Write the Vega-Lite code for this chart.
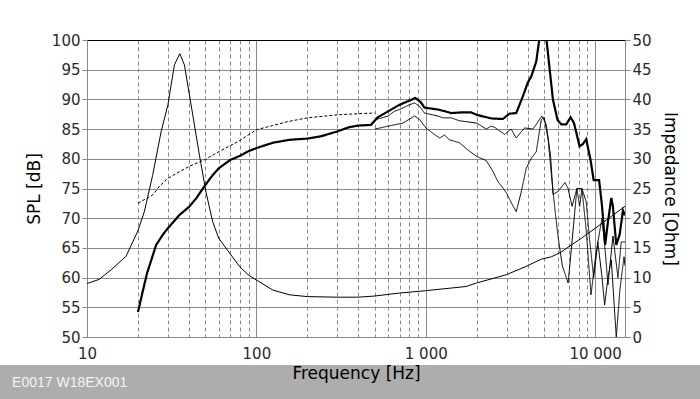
{
  "$schema": "https://vega.github.io/schema/vega-lite/v6.json",
  "width": 538,
  "height": 297,
  "autosize": {"type": "none"},
  "padding": {"left": 87, "top": 40, "right": 75, "bottom": 62},
  "background": "white",
  "config": {
    "font": "DejaVu Sans",
    "view": {"stroke": "#000", "strokeWidth": 1},
    "axis": {
      "labelFont": "DejaVu Sans", "labelFontSize": 15, "labelColor": "#2a2a2a",
      "titleFont": "DejaVu Sans", "titleFontSize": 17, "titleFontWeight": "normal", "titleColor": "#000000",
      "domainColor": "#888888", "tickColor": "#888888", "gridColor": "#888888", "gridOpacity": 1, "gridWidth": 1
    }
  },
  "datasets": {
    "spl": [
      {"f": 20, "v": 54.2, "s": "0deg"}, {"f": 21.3, "v": 57.6, "s": "0deg"}, {"f": 22.6, "v": 60.7, "s": "0deg"},
      {"f": 25.6, "v": 65.5, "s": "0deg"}, {"f": 28, "v": 67.2, "s": "0deg"}, {"f": 30, "v": 68.3, "s": "0deg"},
      {"f": 35, "v": 70.5, "s": "0deg"}, {"f": 40, "v": 71.9, "s": "0deg"}, {"f": 44, "v": 73.3, "s": "0deg"},
      {"f": 50, "v": 75.6, "s": "0deg"}, {"f": 55, "v": 77.2, "s": "0deg"}, {"f": 60, "v": 78.4, "s": "0deg"},
      {"f": 70, "v": 79.8, "s": "0deg"}, {"f": 80, "v": 80.5, "s": "0deg"}, {"f": 90, "v": 81.3, "s": "0deg"},
      {"f": 100, "v": 81.8, "s": "0deg"}, {"f": 125, "v": 82.7, "s": "0deg"}, {"f": 157, "v": 83.2, "s": "0deg"},
      {"f": 200, "v": 83.4, "s": "0deg"}, {"f": 241, "v": 83.8, "s": "0deg"}, {"f": 300, "v": 84.6, "s": "0deg"},
      {"f": 350, "v": 85.3, "s": "0deg"}, {"f": 400, "v": 85.6, "s": "0deg"}, {"f": 475, "v": 85.7, "s": "0deg"},
      {"f": 521, "v": 87.0, "s": "0deg"}, {"f": 600, "v": 88.0, "s": "0deg"}, {"f": 653, "v": 88.6, "s": "0deg"},
      {"f": 700, "v": 89.1, "s": "0deg"}, {"f": 802, "v": 89.8, "s": "0deg"}, {"f": 869, "v": 90.25, "s": "0deg"},
      {"f": 935, "v": 89.5, "s": "0deg"}, {"f": 984, "v": 88.6, "s": "0deg"}, {"f": 1050, "v": 88.5, "s": "0deg"},
      {"f": 1178, "v": 88.3, "s": "0deg"}, {"f": 1300, "v": 88.0, "s": "0deg"}, {"f": 1413, "v": 87.7, "s": "0deg"},
      {"f": 1600, "v": 87.8, "s": "0deg"}, {"f": 1853, "v": 87.8, "s": "0deg"}, {"f": 2000, "v": 87.4, "s": "0deg"},
      {"f": 2430, "v": 86.8, "s": "0deg"}, {"f": 2850, "v": 86.7, "s": "0deg"}, {"f": 3120, "v": 87.6, "s": "0deg"},
      {"f": 3420, "v": 87.7, "s": "0deg"}, {"f": 3740, "v": 90.5, "s": "0deg"}, {"f": 4000, "v": 92.8, "s": "0deg"},
      {"f": 4200, "v": 93.9, "s": "0deg"}, {"f": 4490, "v": 96.4, "s": "0deg"}, {"f": 4700, "v": 100.5, "s": "0deg"},
      {"f": 4900, "v": 102, "s": "0deg"}, {"f": 5140, "v": 100.5, "s": "0deg"}, {"f": 5630, "v": 90.0, "s": "0deg"},
      {"f": 6000, "v": 86.5, "s": "0deg"}, {"f": 6310, "v": 85.8, "s": "0deg"}, {"f": 6750, "v": 85.8, "s": "0deg"},
      {"f": 7160, "v": 87.0, "s": "0deg"}, {"f": 7500, "v": 86.0, "s": "0deg"}, {"f": 8090, "v": 82.1, "s": "0deg"},
      {"f": 8470, "v": 82.5, "s": "0deg"}, {"f": 8850, "v": 83.3, "s": "0deg"}, {"f": 9390, "v": 79.8, "s": "0deg"},
      {"f": 9800, "v": 76.4, "s": "0deg"}, {"f": 10550, "v": 76.4, "s": "0deg"}, {"f": 10980, "v": 72.0, "s": "0deg"},
      {"f": 11450, "v": 65.5, "s": "0deg"}, {"f": 11900, "v": 69.4, "s": "0deg"}, {"f": 12450, "v": 73.4, "s": "0deg"},
      {"f": 12730, "v": 72.0, "s": "0deg"}, {"f": 13320, "v": 65.5, "s": "0deg"}, {"f": 13940, "v": 67.2, "s": "0deg"},
      {"f": 14590, "v": 71.3, "s": "0deg"}, {"f": 15000, "v": 70.5, "s": "0deg"},

      {"f": 505, "v": 86.6, "s": "30deg"}, {"f": 600, "v": 87.2, "s": "30deg"}, {"f": 653, "v": 88.0, "s": "30deg"},
      {"f": 700, "v": 88.3, "s": "30deg"}, {"f": 800, "v": 89.1, "s": "30deg"}, {"f": 860, "v": 89.4, "s": "30deg"},
      {"f": 920, "v": 88.8, "s": "30deg"}, {"f": 982, "v": 87.7, "s": "30deg"}, {"f": 1100, "v": 87.4, "s": "30deg"},
      {"f": 1178, "v": 87.2, "s": "30deg"}, {"f": 1260, "v": 86.9, "s": "30deg"}, {"f": 1413, "v": 86.9, "s": "30deg"},
      {"f": 1580, "v": 86.4, "s": "30deg"}, {"f": 1690, "v": 86.3, "s": "30deg"}, {"f": 2000, "v": 86.0, "s": "30deg"},
      {"f": 2275, "v": 85.0, "s": "30deg"}, {"f": 2430, "v": 85.5, "s": "30deg"}, {"f": 2550, "v": 85.3, "s": "30deg"},
      {"f": 2700, "v": 84.8, "s": "30deg"}, {"f": 2920, "v": 84.1, "s": "30deg"}, {"f": 3190, "v": 85.0, "s": "30deg"},
      {"f": 3420, "v": 83.5, "s": "30deg"}, {"f": 3650, "v": 84.5, "s": "30deg"}, {"f": 3830, "v": 85.2, "s": "30deg"},
      {"f": 4290, "v": 85.0, "s": "30deg"}, {"f": 4590, "v": 86.2, "s": "30deg"}, {"f": 4850, "v": 87.2, "s": "30deg"},
      {"f": 5140, "v": 85.8, "s": "30deg"}, {"f": 5460, "v": 80.4, "s": "30deg"}, {"f": 5640, "v": 74.0, "s": "30deg"},
      {"f": 6030, "v": 74.5, "s": "30deg"}, {"f": 6630, "v": 76.0, "s": "30deg"}, {"f": 6920, "v": 75.0, "s": "30deg"},
      {"f": 7300, "v": 72.0, "s": "30deg"}, {"f": 7800, "v": 75.0, "s": "30deg"}, {"f": 8350, "v": 75.0, "s": "30deg"},
      {"f": 8850, "v": 72.8, "s": "30deg"}, {"f": 9300, "v": 66.0, "s": "30deg"}, {"f": 9800, "v": 60.0, "s": "30deg"},
      {"f": 10370, "v": 66.0, "s": "30deg"}, {"f": 10980, "v": 70.0, "s": "30deg"}, {"f": 11500, "v": 64.0, "s": "30deg"},
      {"f": 11900, "v": 58.8, "s": "30deg"}, {"f": 12730, "v": 67.0, "s": "30deg"}, {"f": 13630, "v": 60.0, "s": "30deg"},
      {"f": 14250, "v": 66.0, "s": "30deg"}, {"f": 15000, "v": 66.0, "s": "30deg"},

      {"f": 500, "v": 85.0, "s": "60deg"}, {"f": 600, "v": 85.5, "s": "60deg"}, {"f": 730, "v": 86.0, "s": "60deg"},
      {"f": 860, "v": 87.2, "s": "60deg"}, {"f": 920, "v": 86.6, "s": "60deg"}, {"f": 1000, "v": 85.2, "s": "60deg"},
      {"f": 1100, "v": 84.3, "s": "60deg"}, {"f": 1206, "v": 83.5, "s": "60deg"}, {"f": 1290, "v": 84.0, "s": "60deg"},
      {"f": 1380, "v": 83.2, "s": "60deg"}, {"f": 1580, "v": 82.7, "s": "60deg"}, {"f": 1770, "v": 81.5, "s": "60deg"},
      {"f": 2000, "v": 80.4, "s": "60deg"}, {"f": 2275, "v": 79.7, "s": "60deg"}, {"f": 2490, "v": 77.9, "s": "60deg"},
      {"f": 2660, "v": 76.2, "s": "60deg"}, {"f": 2850, "v": 75.1, "s": "60deg"}, {"f": 3000, "v": 74.2, "s": "60deg"},
      {"f": 3240, "v": 72.3, "s": "60deg"}, {"f": 3420, "v": 71.1, "s": "60deg"}, {"f": 3660, "v": 74.4, "s": "60deg"},
      {"f": 3920, "v": 78.4, "s": "60deg"}, {"f": 4200, "v": 80.1, "s": "60deg"}, {"f": 4490, "v": 81.2, "s": "60deg"},
      {"f": 4810, "v": 86.6, "s": "60deg"}, {"f": 5000, "v": 87.0, "s": "60deg"}, {"f": 5280, "v": 83.2, "s": "60deg"},
      {"f": 5510, "v": 77.3, "s": "60deg"}, {"f": 5760, "v": 72.0, "s": "60deg"}, {"f": 6030, "v": 67.0, "s": "60deg"},
      {"f": 6400, "v": 62.0, "s": "60deg"}, {"f": 6920, "v": 59.1, "s": "60deg"}, {"f": 7300, "v": 66.0, "s": "60deg"},
      {"f": 7800, "v": 75.0, "s": "60deg"}, {"f": 8100, "v": 72.0, "s": "60deg"}, {"f": 8350, "v": 75.0, "s": "60deg"},
      {"f": 8850, "v": 68.0, "s": "60deg"}, {"f": 9450, "v": 57.1, "s": "60deg"}, {"f": 10000, "v": 63.0, "s": "60deg"},
      {"f": 10370, "v": 66.0, "s": "60deg"}, {"f": 10980, "v": 60.0, "s": "60deg"}, {"f": 11370, "v": 55.4, "s": "60deg"},
      {"f": 11900, "v": 60.0, "s": "60deg"}, {"f": 12450, "v": 63.0, "s": "60deg"}, {"f": 13320, "v": 50.0, "s": "60deg"},
      {"f": 14000, "v": 58.0, "s": "60deg"}, {"f": 14800, "v": 63.5, "s": "60deg"}, {"f": 15000, "v": 62.0, "s": "60deg"},

      {"f": 20, "v": 72.5, "s": "sim"}, {"f": 22, "v": 73.2, "s": "sim"}, {"f": 24.4, "v": 73.9, "s": "sim"},
      {"f": 27, "v": 75.5, "s": "sim"}, {"f": 30, "v": 76.7, "s": "sim"}, {"f": 35, "v": 77.8, "s": "sim"},
      {"f": 40, "v": 78.7, "s": "sim"}, {"f": 50, "v": 79.9, "s": "sim"}, {"f": 60, "v": 81.2, "s": "sim"},
      {"f": 70, "v": 82.2, "s": "sim"}, {"f": 80, "v": 83.1, "s": "sim"}, {"f": 100, "v": 84.9, "s": "sim"},
      {"f": 125, "v": 85.6, "s": "sim"}, {"f": 150, "v": 86.2, "s": "sim"}, {"f": 200, "v": 86.9, "s": "sim"},
      {"f": 300, "v": 87.4, "s": "sim"}, {"f": 400, "v": 87.6, "s": "sim"}, {"f": 500, "v": 87.7, "s": "sim"}
    ],
    "imp": [
      {"f": 10, "z": 9.0}, {"f": 11.8, "z": 9.7}, {"f": 14, "z": 11.4}, {"f": 17, "z": 13.6}, {"f": 20, "z": 17.9},
      {"f": 21.8, "z": 21.1}, {"f": 24.4, "z": 27.2}, {"f": 27.4, "z": 34.6}, {"f": 30, "z": 39.0}, {"f": 32.8, "z": 45.8},
      {"f": 35.3, "z": 47.7}, {"f": 37.6, "z": 45.8}, {"f": 42.1, "z": 37.4}, {"f": 46.1, "z": 30.6}, {"f": 50.4, "z": 24.4},
      {"f": 55.2, "z": 19.4}, {"f": 60, "z": 16.6}, {"f": 70, "z": 14.0}, {"f": 80, "z": 11.8}, {"f": 90, "z": 10.4},
      {"f": 100, "z": 9.6}, {"f": 125, "z": 7.9}, {"f": 157, "z": 7.1}, {"f": 200, "z": 6.8}, {"f": 300, "z": 6.7},
      {"f": 400, "z": 6.7}, {"f": 500, "z": 6.9}, {"f": 700, "z": 7.4}, {"f": 1000, "z": 7.8}, {"f": 1730, "z": 8.5},
      {"f": 2000, "z": 9.1}, {"f": 3000, "z": 10.5}, {"f": 3920, "z": 11.9}, {"f": 4490, "z": 12.7}, {"f": 4810, "z": 13.1},
      {"f": 5510, "z": 13.5}, {"f": 6310, "z": 14.3}, {"f": 7230, "z": 15.5}, {"f": 8280, "z": 16.6}, {"f": 10000, "z": 18.3},
      {"f": 12450, "z": 20.3}, {"f": 15000, "z": 22.0}
    ],
    "caption": [{"label": "E0017 W18EX001"}]
  },
  "layer": [
    {
      "data": {"name": "spl"},
      "mark": {"type": "line", "color": "#000000", "clip": true},
      "encoding": {
        "x": {
          "field": "f", "type": "quantitative",
          "scale": {"type": "log", "domain": [10, 15000], "nice": false},
          "axis": {
            "title": null,
            "values": [10, 20, 30, 40, 50, 60, 70, 80, 90, 100, 200, 300, 400, 500, 600, 700, 800, 900, 1000, 2000, 3000, 4000, 5000, 6000, 7000, 8000, 9000, 10000],
            "labelExpr": "datum.value == 10 ? '10' : datum.value == 100 ? '100' : datum.value == 1000 ? '1 000' : datum.value == 10000 ? '10 000' : ''",
            "ticks": false, "grid": true, "domain": true,
            "gridDash": {"condition": {"test": "datum.value == 10 || datum.value == 100 || datum.value == 1000 || datum.value == 10000", "value": []}, "value": [4, 3]},
            "labelPadding": 9, "labelOverlap": false, "labelFlush": false, "labelBound": false, "labelAngle": 0
          }
        },
        "y": {
          "field": "v", "type": "quantitative",
          "scale": {"domain": [50, 100], "nice": false, "zero": false},
          "axis": {
            "title": "SPL [dB]",
            "values": [50, 55, 60, 65, 70, 75, 80, 85, 90, 95, 100],
            "grid": true,
            "gridColor": {"condition": {"test": "datum.value == 100", "value": "#000000"}, "value": "#888888"},
            "tickSize": 5, "labelPadding": 2, "titlePadding": 8, "minExtent": 36, "maxExtent": 36, "labelFlush": false
          }
        },
        "strokeWidth": {"field": "s", "type": "nominal", "scale": {"type": "ordinal", "domain": ["0deg", "30deg", "60deg", "sim"], "range": [2.2, 1, 1, 1]}, "legend": null},
        "strokeDash": {"field": "s", "type": "nominal", "scale": {"domain": ["0deg", "30deg", "60deg", "sim"], "range": [[1, 0], [1, 0], [1, 0], [3, 2]]}, "legend": null}
      }
    },
    {
      "data": {"name": "imp"},
      "mark": {"type": "line", "color": "#000000", "strokeWidth": 1, "clip": true},
      "encoding": {
        "x": {"field": "f", "type": "quantitative", "scale": {"type": "log", "domain": [10, 15000], "nice": false}, "axis": null},
        "y": {
          "field": "z", "type": "quantitative",
          "scale": {"domain": [0, 50], "nice": false},
          "axis": {
            "orient": "right", "title": "Impedance [Ohm]",
            "values": [0, 5, 10, 15, 20, 25, 30, 35, 40, 45, 50],
            "grid": false, "tickSize": 5, "labelPadding": 2, "titlePadding": 9, "minExtent": 26, "maxExtent": 26, "labelFlush": false
          }
        }
      }
    },
    {
      "data": {"name": "caption"},
      "layer": [
        {
          "mark": {"type": "rect", "color": "#adadad"},
          "encoding": {
            "x": {"datum": 2, "type": "quantitative", "scale": {"type": "log", "domain": [10, 15000], "nice": false},
              "axis": {"orient": "bottom", "title": "Frequency [Hz]", "labels": false, "ticks": false, "domain": false, "grid": false, "zindex": 1, "titlePadding": 28, "minExtent": 0, "maxExtent": 0}},
            "x2": {"datum": 60000},
            "y": {"datum": 45.29, "type": "quantitative", "scale": {"domain": [50, 100], "nice": false, "zero": false}, "axis": null},
            "y2": {"datum": 38}
          }
        },
        {
          "mark": {"type": "text", "align": "left", "baseline": "middle", "font": "Liberation Sans", "fontSize": 14, "color": "#f4f4f4"},
          "encoding": {
            "x": {"datum": 3.61, "type": "quantitative", "scale": {"type": "log", "domain": [10, 15000], "nice": false},
              "axis": {"orient": "bottom", "title": "Frequency [Hz]", "labels": false, "ticks": false, "domain": false, "grid": false, "zindex": 1, "titlePadding": 28, "minExtent": 0, "maxExtent": 0}},
            "y": {"datum": 42.26, "type": "quantitative", "scale": {"domain": [50, 100], "nice": false, "zero": false}, "axis": null},
            "text": {"field": "label", "type": "nominal"}
          }
        }
      ]
    }
  ],
  "resolve": {"scale": {"y": "independent"}, "axis": {"x": "independent"}}
}
